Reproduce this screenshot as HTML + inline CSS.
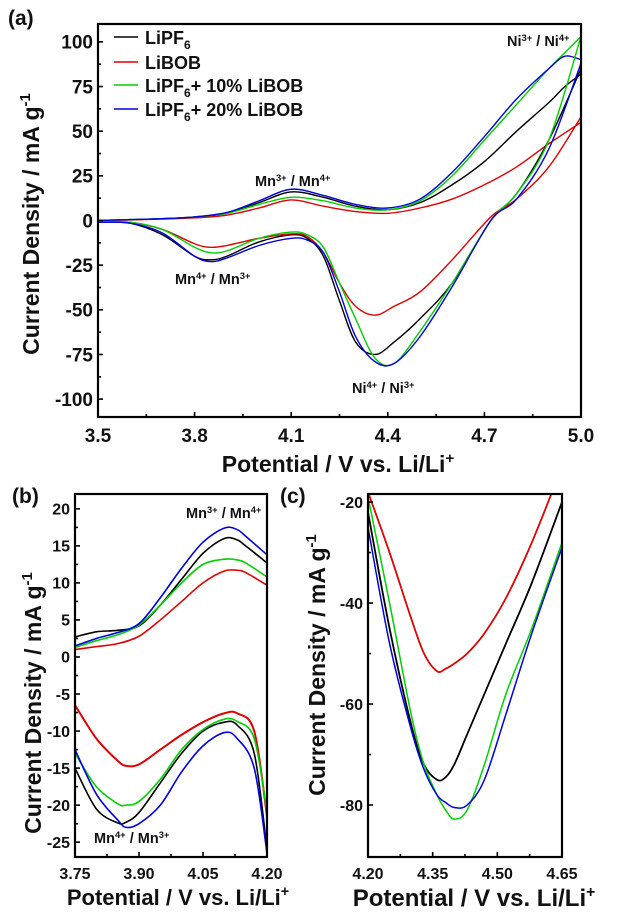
<!DOCTYPE html>
<html><head><meta charset="utf-8"><style>
html,body{margin:0;padding:0;background:#fff}
svg{display:block}
text{font-family:"Liberation Sans",Arial,sans-serif;font-weight:bold;fill:#111}
</style></head><body>
<svg id="fig" width="624" height="917" viewBox="0 0 624 917" xmlns="http://www.w3.org/2000/svg"></svg>
<script>
// ---------- data: panel (a) ----------
const seriesNames = ["LiPF6","LiBOB","LiPF6 + 10% LiBOB","LiPF6 + 20% LiBOB"];
const seriesColors = ["#000000","#e00000","#00d000","#0000e0"];
const aXAnodic = [3.5,3.6,3.7,3.8,3.9,4.0,4.1,4.2,4.3,4.4,4.5,4.6,4.7,4.8,4.9,4.95,5.0];
const aBlackAn = [0,0.5,1,2,4,10,16,13,8,6,10,20,33,50,66,75,82];
const aRedAn   = [0,0.3,0.8,1.5,3,7,11.5,8,5,4,7,12,20,30,43,49,55];
const aGreenAn = [0,0.5,1,2,4,9,13,11,7,6,11,25,45,65,85,94,103];
const aBlueAn  = [0,0.5,1,2,4.5,11,17.5,14,9,7,12,27,47,68,85,92,90];
const aXCath = [5.0,4.9,4.8,4.72,4.6,4.5,4.42,4.36,4.3,4.25,4.2,4.15,4.1,4.0,3.9,3.85,3.8,3.7,3.6,3.5];
const aBlackCa = [85,45,15,0,-35,-55,-68,-75,-68,-45,-20,-10,-8,-12,-20,-22,-20,-8,-1.5,-1];
const aRedCa   = [58,30,12,2,-22,-40,-48,-53,-48,-35,-18,-9,-7.5,-10,-14,-15,-13,-5,-1,-1];
const aGreenCa = [103,45,15,0,-35,-62,-80,-77,-55,-35,-15,-8,-6.5,-10,-17,-18,-15,-5,-1,-1];
const aBlueCa  = [88,40,12,0,-37,-65,-80,-79,-65,-40,-18,-11,-10,-14,-21,-23,-20,-7,-1.5,-1];
// ---------- data: panel (b) ----------
const bXAn = [3.75,3.8,3.85,3.9,3.95,4.0,4.05,4.1,4.13,4.15,4.2];
const bBlackAn = [2.7,3.4,3.6,4.2,7,10.5,14,16,15.8,15,12.7];
const bRedAn   = [1.0,1.4,1.8,2.8,5,7.5,10,11.6,11.7,11.4,9.7];
const bGreenAn = [1.3,2.2,3.0,4.3,7,10,12.5,13.2,13.1,12.7,10.8];
const bBlueAn  = [1.5,2.5,3.3,4.5,8,12,15.5,17.4,17.2,16.3,13.8];
const bXCa = [3.75,3.8,3.85,3.87,3.9,3.95,4.0,4.05,4.1,4.13,4.17,4.2];
const bBlackCa = [-15,-20.5,-22.4,-22.3,-21,-17,-13,-10,-8.8,-9.2,-13,-26];
const bRedCa   = [-6.5,-11,-14,-14.7,-14.5,-12.5,-10.5,-8.8,-7.6,-7.6,-10,-21.5];
const bGreenCa = [-13,-17.5,-19.8,-20,-19.5,-16.5,-12.5,-9.8,-8.4,-8.7,-11,-21];
const bBlueCa  = [-12.5,-18.5,-22,-23,-22.5,-20,-15.5,-12,-10.2,-11,-15,-26.5];
// ---------- data: panel (c) ----------
const cX = [4.2,4.25,4.3,4.33,4.36,4.38,4.4,4.43,4.47,4.52,4.58,4.65];
const cBlack = [-22,-45,-64,-72,-75,-74.5,-72,-66,-58,-48,-36,-20];
const cRed   = [-18,-30,-43,-50,-53.5,-53,-52,-50,-46,-39,-28,-13];
const cGreen = [-19,-40,-62,-72,-78,-81,-82.8,-81,-72,-58,-45,-28];
const cBlue  = [-25,-48,-65,-73,-78,-79.5,-80.5,-80,-75,-62,-46,-29];
// ticks
const aXTicks = [3.5,3.8,4.1,4.4,4.7,5.0];
const aYTicks = [100,75,50,25,0,-25,-50,-75,-100];
const bXTicks = [3.75,3.90,4.05,4.20];
const bYTicks = [20,15,10,5,0,-5,-10,-15,-20,-25];
const cXTicks = [4.20,4.35,4.50,4.65];
const cYTicks = [-20,-40,-60,-80];

const NS="http://www.w3.org/2000/svg";
const svg=document.getElementById('fig');
function mk(tag,attrs,parent){const e=document.createElementNS(NS,tag);for(const k in attrs)e.setAttribute(k,attrs[k]);(parent||svg).appendChild(e);return e;}
function linScale(d0,d1,r0,r1){return v=>r0+(v-d0)/(d1-d0)*(r1-r0);}
function smoothPath(pts){
  let d="M"+pts[0][0].toFixed(2)+","+pts[0][1].toFixed(2);
  for(let i=0;i<pts.length-1;i++){
    const p0=pts[Math.max(0,i-1)],p1=pts[i],p2=pts[i+1],p3=pts[Math.min(pts.length-1,i+2)];
    const c1=[p1[0]+(p2[0]-p0[0])/6,p1[1]+(p2[1]-p0[1])/6];
    const c2=[p2[0]-(p3[0]-p1[0])/6,p2[1]-(p3[1]-p1[1])/6];
    d+="C"+c1[0].toFixed(2)+","+c1[1].toFixed(2)+" "+c2[0].toFixed(2)+","+c2[1].toFixed(2)+" "+p2[0].toFixed(2)+","+p2[1].toFixed(2);
  }
  return d;
}
function fmt(v,dec){return v.toFixed(dec);}
function panel(o){
  const g=mk('g',{});
  
  
  const sx=linScale(o.xd[0],o.xd[1],o.L,o.R), sy=linScale(o.yd[0],o.yd[1],o.B,o.T);
  const cid='clip-'+o.name;
  const cp=mk('clipPath',{id:cid},g);mk('rect',{x:o.L,y:o.T,width:o.R-o.L,height:o.B-o.T},cp);
  const lines=mk('g',{'clip-path':'url(#'+cid+')'},g);
  o.series.forEach(s=>{
    const pts=s.x.map((xv,i)=>[sx(xv),sy(s.y[i])]);
    const p=mk('path',{d:smoothPath(pts),fill:'none',stroke:s.color,'stroke-width':s.w||1.4},lines);
    
    
  });
  const tg=mk('g',{stroke:'#000','stroke-width':1.6},g);
  o.xt.forEach((v,i)=>{
    const x=sx(v);mk('line',{x1:x,y1:o.B,x2:x,y2:o.B-5},tg);
    if(i<o.xt.length-1){const xm=sx((v+o.xt[i+1])/2);mk('line',{x1:xm,y1:o.B,x2:xm,y2:o.B-3},tg);}
    const t=mk('text',{x:x,y:o.B+o.fs+6,'text-anchor':'middle','font-size':o.fs},g);t.textContent=fmt(v,o.xdec);
    
    
  });
  o.yt.forEach((v,i)=>{
    const y=sy(v);mk('line',{x1:o.L,y1:y,x2:o.L+5,y2:y},tg);
    if(i<o.yt.length-1){const ym=sy((v+o.yt[i+1])/2);mk('line',{x1:o.L,y1:ym,x2:o.L+3,y2:ym},tg);}
    const t=mk('text',{x:o.L-5,y:y+o.fs*0.36,'text-anchor':'end','font-size':o.fs},g);t.textContent=String(v);
    
    
  });
  const fr=mk('rect',{x:o.L,y:o.T,width:o.R-o.L,height:o.B-o.T,fill:'none',stroke:'#000','stroke-width':2.2},g);
  
  
  const xt=mk('text',{x:o.xtx,y:o.xty,'text-anchor':'middle','font-size':o.xtfs},g);
  xt.innerHTML='Potential / V vs. Li/Li<tspan font-size="'+(o.xtfs*0.65)+'" dy="-9">+</tspan>';
  
  
  const yt=mk('text',{x:0,y:0,'text-anchor':'middle','font-size':o.ytfs,transform:'translate('+o.ytx+','+o.yty+') rotate(-90)'},g);
  yt.innerHTML='Current Density / mA g<tspan font-size="'+(o.ytfs*0.65)+'" dy="-9">-1</tspan>';
  
  
  const lb=mk('text',{x:o.lbx,y:o.lby,'font-size':21},g);lb.textContent=o.label;
  
  
  return g;
}
function annot(x,y,a,sa,b,sb,fs,name){
  const t=mk('text',{x:x,y:y,'font-size':fs});
  t.innerHTML=a+'<tspan font-size="'+(fs*0.65)+'" dy="-5">'+sa+'</tspan><tspan dy="5"> / '+b+'</tspan><tspan font-size="'+(fs*0.65)+'" dy="-5">'+sb+'</tspan>';
  
  
}
const C=seriesColors;
panel({name:'panel-a',L:98,R:581,T:24,B:417,xd:[3.5,5.0],yd:[-110,110],xt:aXTicks,yt:aYTicks,xdec:1,fs:19,xtfs:23,ytfs:23,
  xtx:338,xty:472,ytx:39,yty:224,lbx:8,lby:25,label:'(a)',
  series:[
   {name:'lipf6-anodic-a',x:aXAnodic,y:aBlackAn,color:C[0]},{name:'libob-anodic-a',x:aXAnodic,y:aRedAn,color:C[1]},
   {name:'lipf6-10-anodic-a',x:aXAnodic,y:aGreenAn,color:C[2]},{name:'lipf6-20-anodic-a',x:aXAnodic,y:aBlueAn,color:C[3]},
   {name:'lipf6-cathodic-a',x:aXCath,y:aBlackCa,color:C[0]},{name:'libob-cathodic-a',x:aXCath,y:aRedCa,color:C[1]},
   {name:'lipf6-10-cathodic-a',x:aXCath,y:aGreenCa,color:C[2]},{name:'lipf6-20-cathodic-a',x:aXCath,y:aBlueCa,color:C[3]}]});
panel({name:'panel-b',L:75,R:267,T:494,B:857,xd:[3.75,4.2],yd:[-27,22],xt:bXTicks,yt:bYTicks,xdec:2,fs:16,xtfs:22,ytfs:23,
  xtx:178,xty:905,ytx:41,yty:703,lbx:12,lby:503,label:'(b)',
  series:[
   {name:'lipf6-anodic-b',x:bXAn,y:bBlackAn,color:C[0],w:1.6},{name:'libob-anodic-b',x:bXAn,y:bRedAn,color:C[1],w:1.6},
   {name:'lipf6-10-anodic-b',x:bXAn,y:bGreenAn,color:C[2],w:1.6},{name:'lipf6-20-anodic-b',x:bXAn,y:bBlueAn,color:C[3],w:1.6},
   {name:'lipf6-cathodic-b',x:bXCa,y:bBlackCa,color:C[0],w:1.6},{name:'libob-cathodic-b',x:bXCa,y:bRedCa,color:C[1],w:2},
   {name:'lipf6-10-cathodic-b',x:bXCa,y:bGreenCa,color:C[2],w:1.6},{name:'lipf6-20-cathodic-b',x:bXCa,y:bBlueCa,color:C[3],w:1.6}]});
panel({name:'panel-c',L:368,R:562,T:494,B:857,xd:[4.2,4.65],yd:[-90.3,-18.4],xt:cXTicks,yt:cYTicks,xdec:2,fs:16,xtfs:24,ytfs:23,
  xtx:474,xty:906,ytx:325,yty:665,lbx:280,lby:503,label:'(c)',
  series:[
   {name:'lipf6-c',x:cX,y:cBlack,color:C[0],w:1.8},{name:'libob-c',x:cX,y:cRed,color:C[1],w:1.8},
   {name:'lipf6-10-c',x:cX,y:cGreen,color:C[2],w:1.5},{name:'lipf6-20-c',x:cX,y:cBlue,color:C[3],w:1.5}]});
// legend
const legY=[37,62,85,109];
const legHtml=['LiPF<tspan font-size="12" dy="5">6</tspan>','LiBOB',
 'LiPF<tspan font-size="12" dy="5">6</tspan><tspan dy="-5">+ 10%  LiBOB</tspan>',
 'LiPF<tspan font-size="12" dy="5">6</tspan><tspan dy="-5">+ 20%  LiBOB</tspan>'];
const lg=mk('g',{});


seriesNames.forEach((n,i)=>{
  const l=mk('line',{x1:114,y1:legY[i],x2:138,y2:legY[i],stroke:C[i],'stroke-width':1.6},lg);
  
  
  const t=mk('text',{x:145,y:legY[i]+7,'font-size':18},lg);t.innerHTML=legHtml[i];
  
  
});
annot(507,46,'Ni','3+','Ni','4+',14.5,'annotation-ni-oxidation');
annot(255,186,'Mn','3+','Mn','4+',14.5,'annotation-mn-oxidation');
annot(175,284,'Mn','4+','Mn','3+',14.5,'annotation-mn-reduction');
annot(352,393,'Ni','4+','Ni','3+',14.5,'annotation-ni-reduction');
annot(186,518,'Mn','3+','Mn','4+',14.5,'annotation-mn-oxidation-b');
annot(94,843,'Mn','4+','Mn','3+',14.5,'annotation-mn-reduction-b');
</script>
</body></html>
